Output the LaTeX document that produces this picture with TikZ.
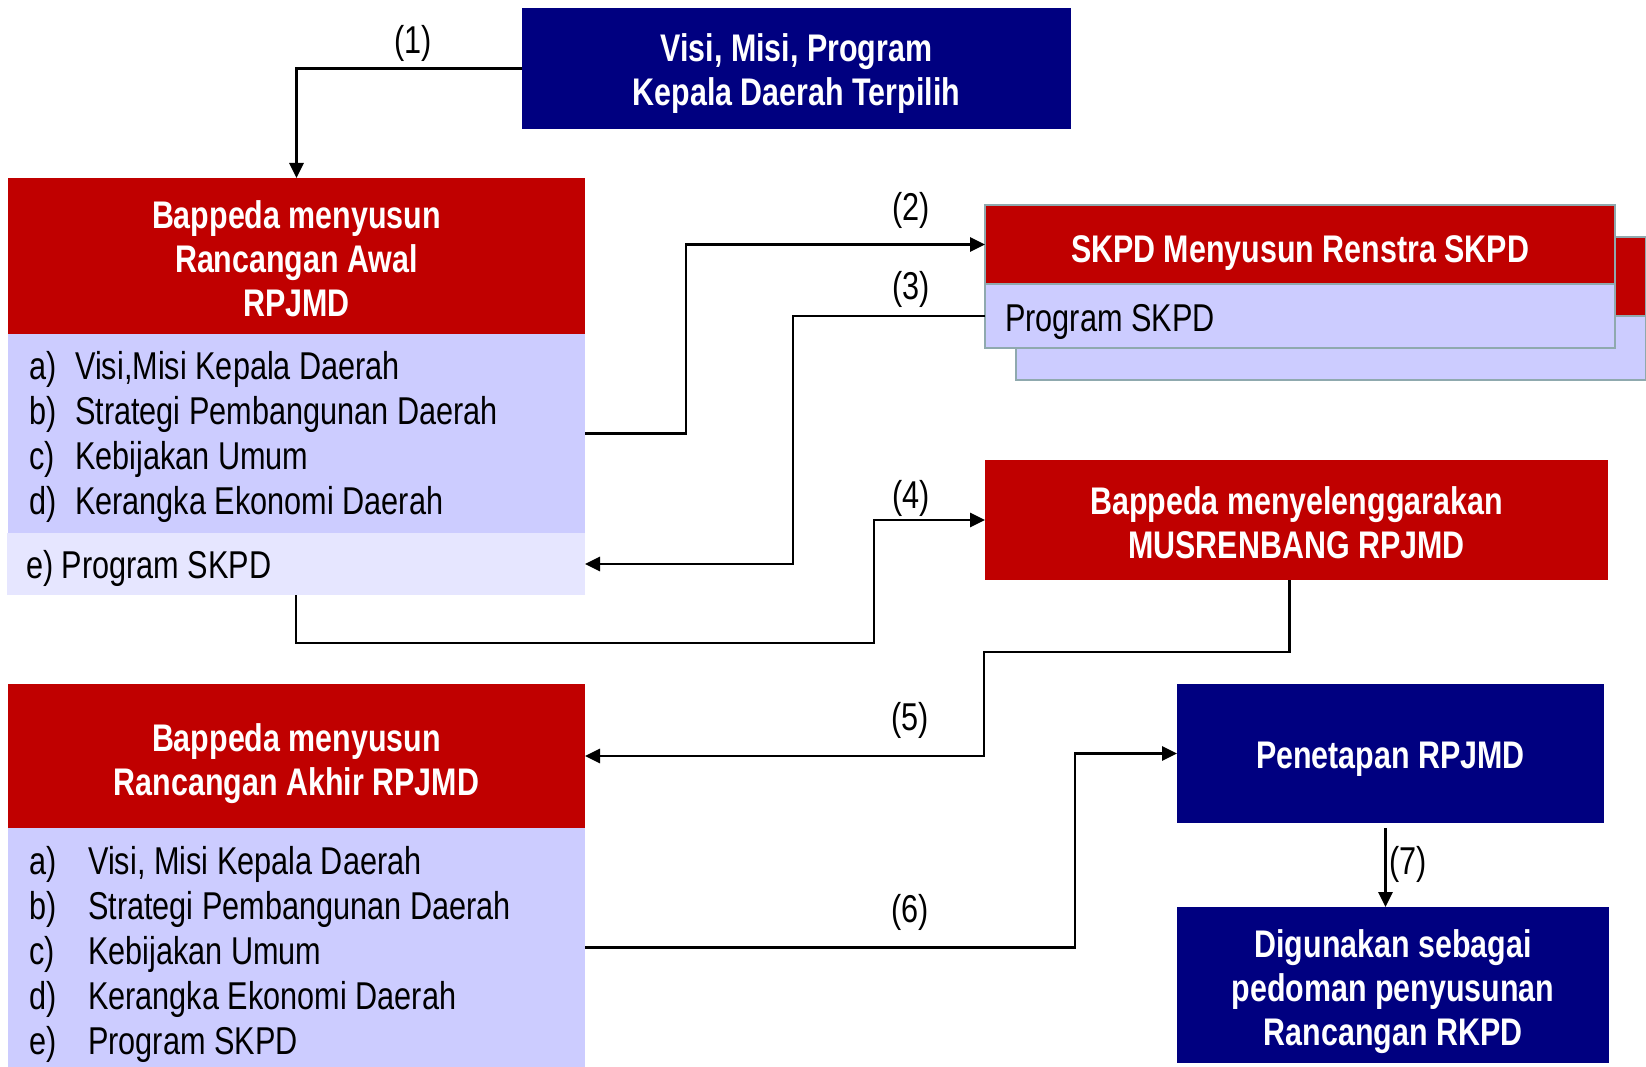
\documentclass[tikz,border=0pt]{standalone}
\usepackage{fontspec}
\setmainfont[FakeStretch=0.79]{Liberation Sans}
\usetikzlibrary{arrows.meta,calc}
\definecolor{navyc}{HTML}{000080}
\definecolor{redc}{HTML}{C00000}
\definecolor{lavc}{HTML}{CCCCFF}
\definecolor{lightc}{HTML}{E6E6FF}
\definecolor{edgec}{HTML}{8FA9AE}
\tikzset{
  box/.style={inner sep=0pt, outer sep=0pt, draw=none},
  hdr/.style={box, text=white, align=center, font=\bfseries\fontsize{38.5}{44}\selectfont},
  lst/.style={inner sep=0pt, align=left, anchor=west, font=\fontsize{38.8}{45}\selectfont},
  lbl/.style={inner sep=0pt, font=\fontsize{38.8}{44}\selectfont},
  arr/.style={line width=2.7pt, -{Triangle[length=15pt,width=14pt]}},
  skpdback/.style={box, draw=edgec, line width=1.5pt},
}
\newcommand{\itA}[1]{\makebox[46pt][l]{#1}}
\newcommand{\itB}[1]{\makebox[59pt][l]{#1}}
\begin{document}
\begin{tikzpicture}[x=1pt,y=-1pt]
\useasboundingbox[fill=white] (0,0) rectangle (1646,1067);

% top box
\node[hdr, fill=navyc, minimum width=549pt, minimum height=121pt] (top) at (796.5,68.5) {};
\node[hdr] (toptext) at (796.5,73.5) {Visi, Misi, Program\\Kepala Daerah Terpilih};

% box A
\node[hdr, fill=redc, minimum width=577pt, minimum height=156pt] (Ahead) at (296.5,256) {};
\node[hdr] (Aheadtext) at (296.5,259) {Bappeda menyusun\\Rancangan Awal\\RPJMD};
\node[box, fill=lavc, minimum width=577pt, minimum height=199pt] (Abody) at (296.5,433.5) {};
\node[box, fill=lightc, minimum width=578pt, minimum height=62pt] (Ae) at (296,564) {};
\node[lst] (Alist) at (29,437)
  {\itA{a)}Visi,Misi Kepala Daerah\\\itA{b)}Strategi Pembangunan Daerah\\\itA{c)}Kebijakan Umum\\\itA{d)}Kerangka Ekonomi Daerah};
\node[lst] (Aetext) at (26,568) {e) Program SKPD};

% SKPD stacked boxes
\node[skpdback, fill=redc, minimum width=630pt, minimum height=79pt] (S2head) at (1331,276.5) {};
\node[skpdback, fill=lavc, minimum width=630pt, minimum height=64pt] (S2body) at (1331,348) {};
\node[skpdback, fill=redc, minimum width=630pt, minimum height=79pt] (S1head) at (1300,244.5) {};
\node[hdr] (S1headtext) at (1300,253) {SKPD Menyusun Renstra SKPD};
\node[skpdback, fill=lavc, minimum width=630pt, minimum height=64pt] (S1body) at (1300,316) {};
\node[lst] (S1text) at (1005,322) {Program SKPD};

% Musrenbang
\node[hdr, fill=redc, minimum width=623pt, minimum height=120pt] (Mus) at (1296.5,520) {};
\node[hdr] (Mustext) at (1296.5,523) {Bappeda menyelenggarakan\\MUSRENBANG RPJMD};

% box B
\node[hdr, fill=redc, minimum width=577pt, minimum height=144pt] (Bhead) at (296.5,756) {};
\node[hdr] (Bheadtext) at (296.5,764) {Bappeda menyusun\\Rancangan Akhir RPJMD};
\node[box, fill=lavc, minimum width=577pt, minimum height=239pt] (Bbody) at (296.5,947.5) {};
\node[lst] (Blist) at (29,954)
  {\itB{a)}Visi, Misi Kepala Daerah\\\itB{b)}Strategi Pembangunan Daerah\\\itB{c)}Kebijakan Umum\\\itB{d)}Kerangka Ekonomi Daerah\\\itB{e)}Program SKPD};

% Penetapan & Digunakan
\node[hdr, fill=navyc, minimum width=427pt, minimum height=139pt] (Pen) at (1390.5,753.5) {};
\node[hdr] (Pentext) at (1390.5,759) {Penetapan RPJMD};
\node[hdr, fill=navyc, minimum width=432pt, minimum height=156pt] (Dig) at (1393,985) {};
\node[hdr] (Digtext) at (1393,992) {Digunakan sebagai\\pedoman penyusunan\\Rancangan RKPD};

% connectors
\draw[arr] (top.west) -| (Ahead.north);
\node[lbl] (l1) at (413,43) {(1)};

\draw[arr] (Abody.east) -- ++(101,0) |- (S1head.west);
\node[lbl] (l2) at (911,210) {(2)};

\draw[arr] (S1body.west) -- ++(-192,0) |- (Ae.east);
\node[lbl] (l3) at (911,289) {(3)};

\coordinate (c4) at (874,643);
\draw[arr] (Ae.south) |- (c4) |- (Mus.west);
\node[lbl] (l4) at (911,498) {(4)};

\coordinate (c5) at (984,652);
\draw[arr] ([xshift=-7pt]Mus.south) |- (c5) |- (Bhead.east);
\node[lbl] (l5) at (910,720) {(5)};

\draw[arr] (Bbody.east) -- ++(490,0) |- (Pen.west);
\node[lbl] (l6) at (910,912) {(6)};

\draw[arr] ([xshift=-5pt,yshift=-5pt]Pen.south) -- ([xshift=-5pt]Pen.south |- Dig.north);
\node[lbl, anchor=west] (l7) at (1389,864) {(7)};
\end{tikzpicture}
\end{document}
